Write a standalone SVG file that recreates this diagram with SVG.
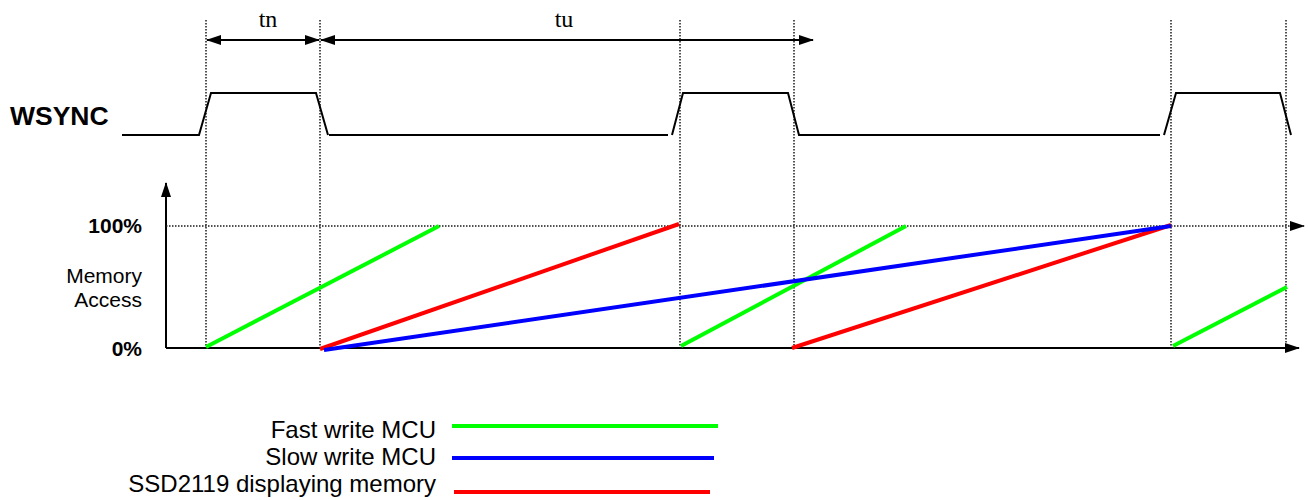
<svg xmlns="http://www.w3.org/2000/svg" width="1308" height="500" viewBox="0 0 1308 500">
<style>
.sans{font-family:"Liberation Sans",Arial,sans-serif;fill:#000}
.serif{font-family:"Liberation Serif","Times New Roman",serif;fill:#000}
.dot{stroke:#1a1a1a;stroke-width:1.5;stroke-dasharray:1.5 1.5;fill:none}
.blk{stroke:#000;stroke-width:2;fill:none}
.g{stroke:#00ff00;stroke-width:4;fill:none}
.b{stroke:#0000ff;stroke-width:4;fill:none}
.r{stroke:#ff0000;stroke-width:4;fill:none}
</style>
<defs>
<marker id="ah" viewBox="0 0 15 10" refX="14" refY="5" markerWidth="15" markerHeight="10" orient="auto-start-reverse" markerUnits="userSpaceOnUse">
<path d="M0,0 L15,5 L0,10 z" fill="#000"/>
</marker>
</defs>
<rect width="1308" height="500" fill="#fff"/>
<g id="guides">
<line class="dot" x1="206" y1="20" x2="206" y2="348"/>
<line class="dot" x1="320" y1="20" x2="320" y2="348"/>
<line class="dot" x1="680" y1="20" x2="680" y2="348"/>
<line class="dot" x1="794" y1="20" x2="794" y2="348"/>
<line class="dot" x1="1171" y1="20" x2="1171" y2="348"/>
<line class="dot" x1="1286" y1="20" x2="1286" y2="348"/>
</g>
<g id="wsync">
<text class="sans" x="10" y="125" font-size="26.5" font-weight="bold">WSYNC</text>
<polyline class="blk" points="122,135 199,135 211,93 316,93 328,135"/>
<polyline class="blk" points="329,135 668,135"/>
<polyline class="blk" points="672,135 683,93 788,93 799,135 1160,135"/>
<polyline class="blk" points="1164,135 1176,93 1280,93 1291,135"/>
</g>
<g id="labels">
<text class="serif" x="268" y="27" font-size="24" text-anchor="middle">tn</text>
<text class="serif" x="564" y="27" font-size="24" text-anchor="middle">tu</text>
<text class="sans" x="142" y="233" font-size="21" font-weight="bold" text-anchor="end">100%</text>
<text class="sans" x="142" y="356" font-size="21" font-weight="bold" text-anchor="end">0%</text>
<text class="sans" x="142" y="283" font-size="21" text-anchor="end">Memory</text>
<text class="sans" x="142" y="307" font-size="21" text-anchor="end">Access</text>
</g>
<g id="legend">
<text class="sans" x="436" y="437.5" font-size="24" text-anchor="end">Fast write MCU</text>
<text class="sans" x="436" y="465" font-size="24" text-anchor="end">Slow write MCU</text>
<text class="sans" x="436" y="492" font-size="24" text-anchor="end">SSD2119 displaying memory</text>
<line class="g" x1="452" y1="426" x2="718" y2="426"/>
<line class="b" x1="452" y1="458" x2="714" y2="458"/>
<line class="r" x1="454" y1="492" x2="710" y2="492"/>
</g>
<g id="connectors">
<line class="blk" x1="207" y1="40" x2="319" y2="40" marker-start="url(#ah)" marker-end="url(#ah)"/>
<line class="blk" x1="321" y1="40" x2="813" y2="40" marker-start="url(#ah)" marker-end="url(#ah)"/>
<line class="blk" x1="166" y1="348" x2="166" y2="183" marker-end="url(#ah)"/>
<line class="blk" x1="166" y1="348" x2="1299" y2="348" marker-end="url(#ah)"/>
<line class="dot" x1="166" y1="226" x2="1304" y2="226" marker-end="url(#ah)"/>
</g>
<g id="traces">
<line class="g" x1="206" y1="347" x2="439" y2="226"/>
<line class="g" x1="681" y1="346" x2="906" y2="226"/>
<line class="g" x1="1173" y1="346" x2="1287" y2="287"/>
<line class="r" x1="320" y1="349" x2="679" y2="224"/>
<line class="r" x1="792" y1="348" x2="1171" y2="225"/>
<line class="b" x1="324" y1="350" x2="1171" y2="226"/>
</g>
</svg>
